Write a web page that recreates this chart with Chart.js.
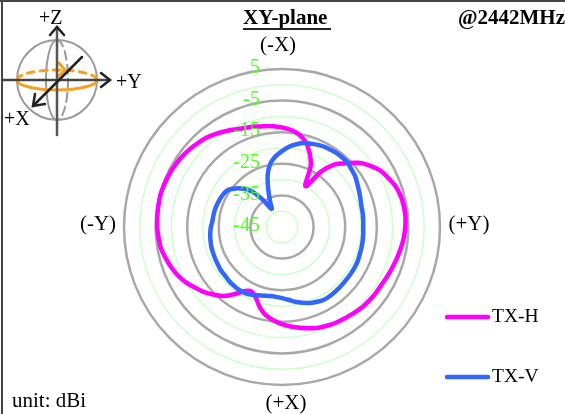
<!DOCTYPE html>
<html>
<head>
<meta charset="utf-8">
<title>XY-plane</title>
<script src="https://cdn.jsdelivr.net/npm/chart.js@4"></script>
<style>
  html, body { margin: 0; padding: 0; background: #fff; }
  canvas { display: block; }
</style>
</head>
<body>
<canvas id="chart" width="565" height="414"></canvas>
<script>
// Angles in degrees, clockwise from (-X) at the top
const angles = [
  0, 5, 10, 15, 20, 25, 30, 35, 40, 45, 50, 55,
  60, 65, 70, 75, 80, 85, 90, 95, 100, 105, 110, 115,
  120, 125, 130, 135, 140, 145, 150, 155, 160, 165, 170, 175,
  180, 185, 190, 195, 200, 205, 210, 215, 220, 225, 230, 235,
  240, 245, 250, 255, 260, 265, 270, 275, 280, 285, 290, 295,
  300, 305, 310, 315, 320, 325, 330, 335, 340, 345, 350, 355
];

// Gain in dBi
const txH = [
  -13.5, -14.1, -15.1, -16.8, -19.7, -23.5, -30.1, -23.8, -19.1, -16.5, -13.4, -11.1,
  -9.2, -8.0, -6.9, -6.2, -5.9, -5.8, -6.0, -6.3, -6.8, -7.3, -7.8, -8.2,
  -8.6, -8.7, -8.9, -9.1, -9.5, -9.9, -10.2, -10.6, -11.1, -11.8, -12.6, -13.4,
  -14.3, -15.3, -16.5, -18.4, -21.0, -22.4, -21.6, -19.1, -16.5, -14.7, -12.9, -11.5,
  -9.9, -8.7, -7.7, -6.9, -6.1, -5.8, -5.5, -5.4, -5.3, -5.2, -5.4, -5.6,
  -5.9, -6.3, -6.8, -7.4, -8.0, -8.9, -9.9, -10.9, -11.6, -12.1, -12.6, -13.0
];
const txV = [
  -21.0, -19.5, -18.4, -17.5, -17.0, -16.5, -16.2, -16.0, -15.9, -15.9, -16.4, -16.8,
  -17.5, -18.1, -18.6, -19.0, -19.1, -19.2, -19.3, -19.2, -19.1, -19.0, -18.9, -18.7,
  -18.7, -18.7, -18.7, -18.6, -18.5, -18.4, -18.4, -18.9, -19.4, -20.2, -21.0, -21.9,
  -22.5, -22.8, -22.8, -22.5, -22.0, -21.4, -21.0, -20.9, -21.0, -21.1, -21.3, -21.3,
  -21.5, -21.6, -21.7, -21.8, -22.0, -22.2, -22.5, -22.9, -23.0, -23.1, -23.3, -23.5,
  -23.8, -24.4, -26.0, -27.9, -30.4, -34.6, -38.4, -36.1, -32.3, -27.6, -24.4, -22.5
];

const tickLabels = [5, -5, -15, -25, -35, -45];

const SERIF = "'Liberation Serif', serif";
const MAGENTA = '#ff00ff';
const BLUE = '#3366ff';
const GREEN = '#4dff1a';
const ORANGE = '#f5a020';

function drawText(ctx, text, x, y, font, align, color) {
  ctx.font = font;
  ctx.textAlign = align || 'left';
  ctx.textBaseline = 'middle';
  ctx.fillStyle = color || '#000';
  ctx.fillText(text, x, y);
}

function strokeLine(ctx, x1, y1, x2, y2, color, width) {
  ctx.strokeStyle = color;
  ctx.lineWidth = width;
  ctx.beginPath();
  ctx.moveTo(x1, y1);
  ctx.lineTo(x2, y2);
  ctx.stroke();
}

// Small orientation sphere in the top left corner
function drawSphere(ctx) {
  const cx = 57, cy = 80, r = 40;
  ctx.save();
  ctx.lineCap = 'round';

  ctx.strokeStyle = '#9a9a9a';
  ctx.lineWidth = 2;
  ctx.beginPath();
  ctx.arc(cx, cy, r, 0, Math.PI * 2);
  ctx.stroke();
  ctx.beginPath();
  ctx.ellipse(cx, cy, 11, r, 0, Math.PI / 2, Math.PI * 1.5);
  ctx.stroke();
  ctx.setLineDash([9, 5]);
  ctx.beginPath();
  ctx.ellipse(cx, cy, 11, r, 0, -Math.PI / 2, Math.PI / 2);
  ctx.stroke();
  ctx.setLineDash([]);

  // orange ring, front solid and back dashed
  ctx.strokeStyle = ORANGE;
  ctx.lineWidth = 3;
  ctx.beginPath();
  ctx.ellipse(cx, cy, r, 10, 0, 0, Math.PI);
  ctx.stroke();
  ctx.setLineDash([7, 6]);
  ctx.beginPath();
  ctx.ellipse(cx, cy, r, 10, 0, Math.PI, Math.PI * 2);
  ctx.stroke();
  ctx.setLineDash([]);
  ctx.beginPath();
  ctx.moveTo(59, 63);
  ctx.lineTo(65, 70);
  ctx.lineTo(59, 76);
  ctx.stroke();

  // axes
  strokeLine(ctx, cx, 28, cx, 135, '#555', 2.5);
  strokeLine(ctx, 2, cy, 110, cy, '#444', 2.5);
  strokeLine(ctx, 82, 57, 33, 106, '#222', 2.5);
  ctx.strokeStyle = '#222';
  ctx.lineWidth = 2.5;
  [[[50, 35], [57, 27], [64, 35]],
   [[101, 73], [110, 80], [101, 87]],
   [[35, 94], [33, 106], [45, 104]]].forEach(p => {
    ctx.beginPath();
    ctx.moveTo(p[0][0], p[0][1]);
    ctx.lineTo(p[1][0], p[1][1]);
    ctx.lineTo(p[2][0], p[2][1]);
    ctx.stroke();
  });
  ctx.restore();

  const font = '20px ' + SERIF;
  drawText(ctx, '+Z', 39, 19, font);
  drawText(ctx, '+Y', 116, 83, font);
  drawText(ctx, '+X', 4, 120, font);
}

const decorPlugin = {
  id: 'decor',
  afterDatasetsDraw(chart) {
    const ctx = chart.ctx;
    const scale = chart.scales.r;
    ctx.save();
    // dB labels sit on the grey rings, left of the vertical through the centre
    tickLabels.forEach(v => {
      const y = scale.yCenter - scale.getDistanceFromCenterForValue(v);
      drawText(ctx, String(v), scale.xCenter - 22, y - 1, '20px ' + SERIF, 'right', GREEN);
    });
    ctx.restore();
  },
  afterDraw(chart) {
    const ctx = chart.ctx;
    ctx.save();

    // page frame, only top and left show
    strokeLine(ctx, 2, 0, 2, 414, '#444', 2);
    strokeLine(ctx, 0, 1, 565, 1, '#444', 2);

    const font = '21px ' + SERIF;
    drawText(ctx, 'XY-plane', 243, 19, 'bold 21px ' + SERIF);
    strokeLine(ctx, 243, 29, 331, 29, '#222', 2);
    drawText(ctx, '@2442MHz', 458, 19, 'bold 21px ' + SERIF);

    drawText(ctx, '(-X)', 278, 45, font, 'center');
    drawText(ctx, '(+X)', 286, 403, font, 'center');
    drawText(ctx, '(-Y)', 98, 224, font, 'center');
    drawText(ctx, '(+Y)', 469, 224, font, 'center');
    drawText(ctx, 'unit: dBi', 12, 401, font);

    // legend
    ctx.lineCap = 'round';
    const legendY = [317, 377];
    chart.data.datasets.forEach((ds, i) => {
      strokeLine(ctx, 447, legendY[i], 488, legendY[i], ds.borderColor, 4.5);
      drawText(ctx, ds.label, 492, legendY[i], '19.5px ' + SERIF);
    });

    drawSphere(ctx);
    ctx.restore();
  }
};

new Chart(document.getElementById('chart').getContext('2d'), {
  type: 'radar',
  data: {
    labels: angles,
    datasets: [
      { label: 'TX-H', data: txH, borderColor: MAGENTA, borderWidth: 4.5, order: 1 },
      { label: 'TX-V', data: txV, borderColor: BLUE, borderWidth: 4.5, order: 0 }
    ]
  },
  options: {
    responsive: false,
    devicePixelRatio: 1,
    animation: false,
    layout: { padding: { left: 124, right: 125, top: 69, bottom: 29 } },
    elements: {
      point: { radius: 0, hitRadius: 0 },
      line: { fill: false, tension: 0.35, borderJoinStyle: 'round' }
    },
    plugins: { legend: { display: false }, tooltip: { enabled: false } },
    scales: {
      r: {
        min: -45,
        max: 5,
        ticks: { stepSize: 5, display: false, showLabelBackdrop: false },
        pointLabels: { display: false },
        angleLines: { display: false },
        grid: {
          circular: true,
          color: c => (tickLabels.includes(c.tick.value) ? '#a8a8a8' : '#ccffcc'),
          lineWidth: c => (tickLabels.includes(c.tick.value) ? 2.5 : 1.5)
        }
      }
    }
  },
  plugins: [decorPlugin]
});
</script>
</body>
</html>
